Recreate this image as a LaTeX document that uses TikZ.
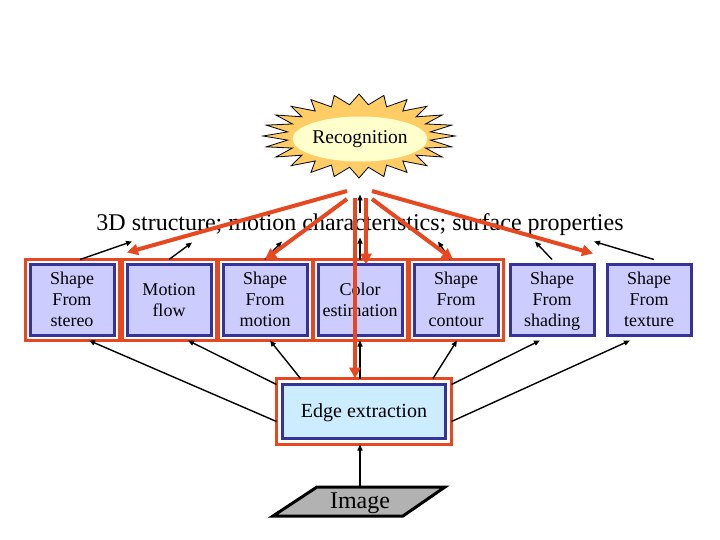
\documentclass[tikz,border=0pt]{standalone}
\usepackage{fontspec}
\setmainfont{Liberation Serif}
\usetikzlibrary{positioning,arrows.meta,fit,shapes.geometric}
\definecolor{framered}{RGB}{232,72,32}
\definecolor{boxblue}{RGB}{51,51,153}
\definecolor{boxfill}{RGB}{204,204,255}
\definecolor{edgefill}{RGB}{204,236,255}
\definecolor{burstfill}{RGB}{255,204,102}
\definecolor{ovalfill}{RGB}{255,255,204}
\definecolor{imagefill}{RGB}{178,178,178}
\newcommand{\fsz}[2]{\fontsize{#1}{#2}\selectfont}

\begin{document}
\begin{tikzpicture}[x=1pt,y=-1pt,
  box/.style={draw=boxblue,line width=3pt,fill=boxfill,minimum width=84pt,minimum height=71pt,
    inner sep=0pt,outer sep=5pt,align=center,font=\fsz{18}{21}},
  frame/.style={draw=framered,line width=3pt,inner sep=0pt},
  up/.style={line width=1.4pt,-{Triangle[length=6pt,width=5pt]}},
  feed/.style={draw=framered,line width=4pt,-{Triangle[length=11pt,width=11pt]}}]
\useasboundingbox (0,0) rectangle (720,540);
% recognition
\draw[fill=burstfill,line width=0.8pt] plot[samples at={0,...,47},variable=\i]
  ({359+ifthenelse(mod(\i,2)==0,96,72)*cos(\i*7.5)},{136+ifthenelse(mod(\i,2)==0,42,31.5)*sin(\i*7.5)}) -- cycle;
\node[ellipse,fill=ovalfill,minimum width=124pt,minimum height=45pt,inner sep=0pt,font=\fsz{19.5}{22}] (rec) at (360,139) {Recognition};
\node[font=\fsz{24}{26}] (cap) at (360,225) {3D structure; motion characteristics; surface properties};
% modules
\foreach \n/\x/\t in {1/72/{Shape\\From\\stereo},2/169/{Motion\\flow},3/265/{Shape\\From\\motion},
  4/360/{Color\\estimation},5/456/{Shape\\From\\contour},6/552/{Shape\\From\\shading},7/649/{Shape\\From\\texture}}
  \node[box] (b\n) at (\x,300) {\rule{0pt}{18pt}\t\strut};
\foreach \n in {1,...,5}
  \node[frame,fit=(b\n)] (f\n) {};
% edge extraction and image
\node[box,fill=edgefill,minimum width=163pt,minimum height=54pt,outer sep=6pt,font=\fsz{20}{22}] (edge) at (364,411.5) {\rule{0pt}{16pt}Edge extraction};
\node[frame,fit=(edge)] (fe) {};
\draw[fill=imagefill,line width=3pt,line join=miter] (273,516) -- (403,516) -- (445,487) -- (317,487) -- cycle;
\node[minimum height=33pt,inner sep=0pt,font=\fsz{24}{26}] (img) at (360,503.5) {Image};
\draw[up] (img.north) -- ([xshift=-4pt]edge.south);
% bottom-up
\draw[up] ([yshift=-10pt]edge.west) -- ([xshift=17pt]b1.south);
\draw[up] ([yshift=-6pt]edge.north west) -- ([xshift=19pt]b2.south);
\draw[up] ([xshift=24pt]edge.north west) -- ([xshift=5pt]b3.south);
\draw[up] ([xshift=-4pt]edge.north) -- (b4.south);
\draw[up] ([xshift=69pt]edge.north) -- ([xshift=1pt]b5.south);
\draw[up] ([yshift=-6pt]edge.north east) -- ([xshift=-12pt]b6.south);
\draw[up] ([yshift=-10pt]edge.east) -- ([xshift=-19pt]b7.south);
\foreach \n/\a/\b/\c in {1/8/60/18,2/0/23/17,3/0/17/18,4/0/0/22,5/-6/-18/18,6/0/-17/18,7/5/-55/18}
  \draw[up] ([xshift=\a pt]b\n.north) -- ([xshift=\b pt,yshift=\c pt]b\n.north);
\draw[up] ([yshift=46pt]b4.north) -- ([yshift=65pt]b4.north);
% top-down
\draw[feed] ([xshift=-13pt,yshift=-52pt]rec.center) -- ([xshift=55pt,yshift=7pt]b1.north);
\draw[feed] ([xshift=-13pt,yshift=-60pt]rec.center) -- (b3.north);
\draw[feed] ([xshift=-5pt,yshift=-59pt]rec.center) -- ([xshift=-9pt]edge.north);
\draw[feed] ([xshift=6pt,yshift=-59pt]rec.center) -- ([xshift=6pt,yshift=-5pt]b4.north);
\draw[feed] ([xshift=12pt,yshift=-60pt]rec.center) -- ([xshift=-3pt]b5.north);
\draw[feed] ([xshift=12pt,yshift=-52pt]rec.center) -- ([xshift=41pt,yshift=6pt]b6.north);
\end{tikzpicture}
\end{document}
